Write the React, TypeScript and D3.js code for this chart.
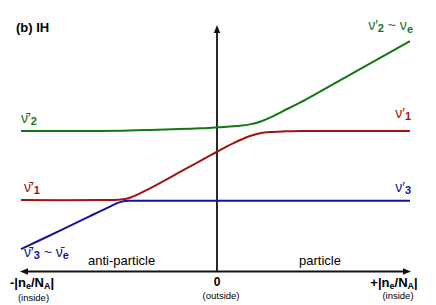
import React from "react";
import * as d3 from "d3";

// density axis: -1 = -|ne/NA| (anti-particle), 0 = outside, +1 = +|ne/NA| (particle)
// eigenvalues in arbitrary units
const nu2X = [-1, -0.597, -0.342, -0.087, 0, 0.119, 0.171, 0.223, 0.275, 0.342, 0.43, 0.741, 1];
const nu2Y = [0.986, 0.986, 1.0, 1.024, 1.039, 1.06, 1.081, 1.119, 1.177, 1.271, 1.39, 1.871, 2.271];

const nu1X = [-1, -0.597, -0.505, -0.444, -0.342, -0.163, -0.087, 0, 0.083, 0.171, 0.223, 0.275, 0.352, 0.43, 1];
const nu1Y = [0, 0, 0.004, 0.033, 0.167, 0.441, 0.557, 0.69, 0.81, 0.914, 0.953, 0.971, 0.981, 0.986, 0.986];

const nu3X = [-1, -0.801, -0.648, -0.546, -0.495, -0.454, -0.393, 0, 1];
const nu3Y = [-0.7, -0.436, -0.229, -0.093, -0.029, -0.01, -0.009, -0.009, -0.009];

const colors = { nu2: "#117711", nu1: "#a01414", nu3: "#14149a" };

const W = 436;
const H = 305;
const font = "'Liberation Sans', Arial, Helvetica, sans-serif";

const x = d3.scaleLinear().domain([-1, 0, 1]).range([21, 217, 410]);
const y = d3.scaleLinear().domain([-1.02, 2.5]).range([271.5, 25]);

const line = d3
  .line<[number, number]>()
  .x((d) => x(d[0]))
  .y((d) => y(d[1]))
  .curve(d3.curveCatmullRom.alpha(0.5));

const pts = (xs: number[], ys: number[]) => xs.map((v, i) => [v, ys[i]] as [number, number]);

const BAR = "\u0304";
const PRIME = "\u2032";

// nu label: bar? + prime + bold subscript (baseline left shifted by +2)
const Nu = ({ bar, sub }: { bar?: boolean; sub: string }) => (
  <>
    <tspan>{"ν" + (bar ? BAR : "")}</tspan>
    <tspan>{PRIME}</tspan>
    <tspan fontSize={11} fontWeight="bold" dy={2}>{sub}</tspan>
  </>
);

const App = () => {
  const axisY = y(-1.02);
  const axisX = x(0);
  const left = x(-1) - 1;
  const right = x(1) + 1;
  const top = y(2.5);
  return (
    <svg
      width={W}
      height={H}
      style={{ position: "absolute", left: 0, top: 0, background: "#fff" }}
      fontFamily={font}
    >
      {/* axes */}
      <g stroke="#111" strokeWidth={1.8} fill="none">
        <line x1={left + 6} x2={right - 6} y1={axisY} y2={axisY} />
        <line x1={axisX} x2={axisX} y1={axisY} y2={top + 6} />
      </g>
      <g fill="#111">
        <path d={`M${left},${axisY}L${left + 8},${axisY - 3.2}L${left + 8},${axisY + 3.2}Z`} />
        <path d={`M${right},${axisY}L${right - 8},${axisY - 3.2}L${right - 8},${axisY + 3.2}Z`} />
        <path d={`M${axisX},${top}L${axisX - 3.2},${top + 8}L${axisX + 3.2},${top + 8}Z`} />
      </g>

      {/* curves */}
      <g fill="none" strokeWidth={2}>
        <path d={line(pts(nu2X, nu2Y)) ?? ""} stroke={colors.nu2} />
        <path d={line(pts(nu1X, nu1Y)) ?? ""} stroke={colors.nu1} />
        <path d={line(pts(nu3X, nu3Y)) ?? ""} stroke={colors.nu3} />
      </g>

      {/* title */}
      <text x={16} y={32} fontSize={13} fontWeight="bold">(b) IH</text>

      {/* curve labels */}
      <text x={21} y={123} fontSize={14} fill={colors.nu2}>
        <Nu bar sub="2" />
      </text>
      <text x={413} y={30} fontSize={14} fill={colors.nu2} textAnchor="end">
        <Nu sub="2" />
        <tspan dy={-2}>{" ~ ν"}</tspan>
        <tspan fontSize={11} fontWeight="bold" dy={3}>e</tspan>
      </text>
      <text x={411} y={118} fontSize={14} fill={colors.nu1} textAnchor="end">
        <Nu sub="1" />
      </text>
      <text x={24} y={192} fontSize={14} fill={colors.nu1}>
        <Nu bar sub="1" />
      </text>
      <text x={411} y={192} fontSize={14} fill={colors.nu3} textAnchor="end">
        <Nu sub="3" />
      </text>
      <text x={24} y={257} fontSize={14} fill={colors.nu3}>
        <Nu bar sub="3" />
        <tspan dy={-2}>{" ~ ν" + BAR}</tspan>
        <tspan fontSize={11} fontWeight="bold" dy={2}>e</tspan>
      </text>

      {/* region labels */}
      <text x={88} y={265} fontSize={13}>anti-particle</text>
      <text x={299} y={265} fontSize={13}>particle</text>

      {/* axis labels */}
      <text x={32} y={287} fontSize={13} fontWeight="bold" textAnchor="middle">
        -|n<tspan fontSize={9} dy={2}>e</tspan><tspan dy={-2}>/N</tspan><tspan fontSize={9} dy={2}>A</tspan><tspan dy={-2}>|</tspan>
      </text>
      <text x={33.5} y={301} fontSize={9.5} textAnchor="middle">(inside)</text>

      <text x={axisX} y={286} fontSize={12} fontWeight="bold" textAnchor="middle">0</text>
      <text x={axisX + 4} y={299} fontSize={9.5} textAnchor="middle">(outside)</text>

      <text x={394} y={287} fontSize={13} fontWeight="bold" textAnchor="middle">
        +|n<tspan fontSize={9} dy={2}>e</tspan><tspan dy={-2}>/N</tspan><tspan fontSize={9} dy={2}>A</tspan><tspan dy={-2}>|</tspan>
      </text>
      <text x={398} y={299} fontSize={9.5} textAnchor="middle">(inside)</text>
    </svg>
  );
};

export default App;
